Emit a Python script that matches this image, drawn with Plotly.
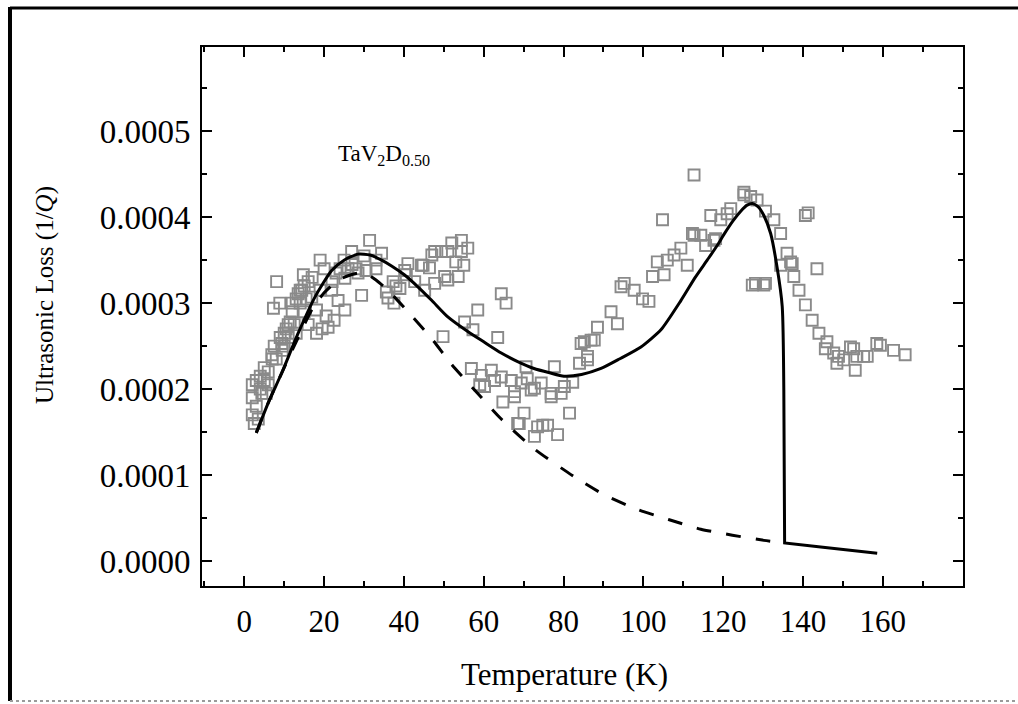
import plotly.graph_objects as go

# Measured ultrasonic loss (1/Q) versus temperature (K)
temp_meas = [
    2, 2, 2, 2.5, 3, 3, 3.5, 4, 4.4, 4, 5, 5, 5.5, 6, 6.9, 6, 7, 7.3, 7.5, 8.1, 8.9, 8, 9, 9.4, 9.5,
    10, 10.5, 10, 11, 11.5, 11, 12, 12.5, 12, 13, 13.5, 13, 14, 14.4, 14.8, 14, 15, 15.5, 15, 16,
    16.9, 16, 17, 18.1, 18.1, 19, 19, 19.5, 20, 20.5, 21, 21.9, 22, 22.5, 23.5, 23, 24, 25.2, 25.2,
    25, 26, 26.9, 27, 28, 28.5, 29.4, 30, 30.5, 31.4, 33, 33, 34.4, 35.6, 36, 37.5, 37.3, 38, 39,
    40.2, 40.6, 41, 42.7, 44.4, 44.8, 45.2, 46.4, 47, 47.7, 47.7, 49.4, 50.2, 51, 51, 52, 53, 53.6,
    54.4, 54.4, 55, 56, 49.8, 55.2, 57.3, 58.5, 63.5, 64.4, 65.6,
    56.9, 59.4, 60.2, 59, 61.9, 62.7, 64.4, 64.8, 66.9, 67.7, 67.7, 68.5, 68.9, 69.4, 70.1, 70.6,
    70.9, 71.9, 72.7, 72.7, 73.5, 74.4, 74.8, 76, 76.9, 76.9, 77.7, 78.5, 79.4, 80.2, 81.5, 82.3,
    84, 84.4, 85.2, 86, 86, 86.9, 87.7, 88.5, 91.9, 93.5, 94.4, 95.2, 97.7, 99.8, 101.4, 102.3,
    103.5, 104.8, 105.2, 106, 107.7, 109.4, 111, 112.3, 112.7, 112.7, 114.4, 115.6, 116.9, 117.7,
    118.1, 119.4, 121, 121.9, 125.2, 125.2, 126.9, 128.5, 127.3, 128.1, 130.2, 130.6, 130.6, 132.7,
    134.4, 134.4,
    136, 136.9, 137.3, 137.7, 139, 140.6, 140.6, 141.3, 142.3, 143.5, 144, 145.6, 146, 147.7,
    148.5, 148.9, 150.2, 151.9, 152.7, 153.1, 153.5, 155.2, 156.1, 158.5, 159.4, 162.7, 165.6,
]
loss_meas_e4 = [
    2.05, 1.9, 1.7, 1.6, 2.1, 1.8, 1.65, 2.0, 1.95, 2.15, 2.1, 2.25, 1.95, 2.2, 2.4, 2.05, 2.35,
    2.94, 2.5, 3.25, 3.0, 2.35, 2.6, 2.53, 2.45,
    2.65, 2.7, 2.5, 2.75, 2.78, 2.6, 2.9, 2.75, 3.0, 3.05, 3.11, 2.65, 3.15, 3.15, 3.33, 3.0, 3.2,
    3.05, 2.9, 3.25,
    3.07, 2.75, 3.3, 2.92, 2.65, 3.5, 3.15, 2.7, 3.4, 2.85, 2.72, 3.15, 3.25, 2.8, 3.03, 3.35, 3.4,
    2.92, 3.29,
    3.5, 3.4, 3.6, 3.45, 3.4, 3.35, 3.09, 3.55, 3.38, 3.73, 3.5, 3.4, 3.58, 3.13, 3.06, 3.0, 3.25,
    3.2, 3.17,
    3.38, 3.33, 3.46, 3.25, 3.44, 3.44, 3.15, 3.41, 3.56, 3.6, 3.23, 3.6, 3.31, 3.27, 3.6, 3.7, 3.48,
    3.31,
    3.73, 3.6, 3.44, 3.64, 2.61, 2.78, 2.69, 2.92, 2.6, 3.11, 3.0,
    2.24, 2.16, 2.03, 2.05, 2.22, 2.1, 2.14, 1.85, 2.1, 1.91, 1.97, 1.6, 1.6, 2.07, 1.72, 2.26,
    2.12, 1.99, 2.01, 1.45, 1.56, 2.07, 1.58, 1.58, 1.95, 1.91, 2.26, 1.47, 1.95, 2.03, 1.72, 2.08,
    2.3, 2.53, 2.55, 2.38, 2.34, 2.57, 2.57, 2.72, 2.9, 2.76, 3.19, 3.23, 3.15, 3.05, 3.02, 3.31,
    3.48, 3.97, 3.33, 3.5, 3.56, 3.64, 3.44, 3.81, 3.79, 4.49, 3.79, 3.67, 4.02, 3.73,
    3.75, 3.97, 4.04, 4.1, 4.29, 4.26, 4.24, 4.2, 3.21, 3.23, 3.21, 3.23, 4.07, 3.97,
    3.81, 3.44,
    3.58, 3.48, 3.46, 3.31, 3.15, 2.98, 4.02, 4.05, 2.8, 3.4, 2.65, 2.47, 2.55, 2.42,
    2.3, 2.38, 2.34, 2.49, 2.47, 2.22, 2.38, 2.38, 2.38, 2.53, 2.51, 2.45, 2.4,
]

# Model fit: total loss (solid), smooth part up to the transition
temp_fit = [
    3, 6, 9.4, 13.5, 17.7, 21.9, 25, 28.5, 31.5, 34.4, 37, 40.1, 43.5, 47, 51, 56, 60, 64.4, 68.5,
    72.6, 76.5, 80.1, 84.5, 89.4, 94, 99.4, 104.4, 109.4, 113, 116, 118.5, 120.2, 122.5, 124.4,
    126, 127.3, 128.8, 130.2, 131.9, 133.5, 134.8, 135.2,
]
loss_fit_e4 = [
    1.49, 1.84, 2.19, 2.65, 3.07, 3.38, 3.50, 3.57, 3.56, 3.50, 3.43, 3.33, 3.19, 3.03, 2.84, 2.67,
    2.55, 2.42, 2.32, 2.24, 2.19, 2.15, 2.17, 2.24, 2.35, 2.49, 2.69, 3.03, 3.30, 3.50, 3.67, 3.80,
    3.96, 4.07, 4.14, 4.16, 4.12, 4.02, 3.81, 3.42, 2.96, 1.99,
]
# Drop at the transition and the high-temperature tail
temp_tail = [135.2, 135.3, 135.4, 145, 158.6]
loss_tail_e4 = [1.99, 1.0, 0.21, 0.16, 0.09]

# Low-temperature relaxation component (dashed)
temp_comp = [
    3, 6, 9.4, 13.5, 17, 20, 23, 25.5, 28.5, 31, 33, 36, 41, 46.9, 51.9, 57.7, 64.2, 72.5, 82.7,
    90.6, 98.5, 106.5, 114.4, 122.3, 130.2, 133.5,
]
loss_comp_e4 = [
    1.49, 1.84, 2.19, 2.6, 2.93, 3.12, 3.25, 3.31, 3.35, 3.33, 3.27, 3.15, 2.90, 2.59, 2.29, 1.99,
    1.66, 1.31, 0.98, 0.76, 0.60, 0.48, 0.37, 0.30, 0.24, 0.22,
]

x_ticks = [0, 20, 40, 60, 80, 100, 120, 140, 160]
y_ticks = [0.0, 0.0001, 0.0002, 0.0003, 0.0004, 0.0005]
y_tick_text = ["0.0000", "0.0001", "0.0002", "0.0003", "0.0004", "0.0005"]

SERIF = "Liberation Serif"


def scaled(vals):
    return [v * 1e-4 for v in vals]


fig = go.Figure()
fig.add_trace(go.Scatter(
    x=temp_meas, y=scaled(loss_meas_e4), mode="markers",
    marker=dict(symbol="square-open", size=11, color="#8a8a8a", line=dict(width=1.9, color="#8a8a8a")),
    showlegend=False,
))
fig.add_trace(go.Scatter(
    x=temp_comp, y=scaled(loss_comp_e4), mode="lines",
    line=dict(color="black", width=3, dash="15px,15px", shape="spline", smoothing=0.6),
    showlegend=False,
))
fig.add_trace(go.Scatter(
    x=temp_fit, y=scaled(loss_fit_e4), mode="lines",
    line=dict(color="black", width=3, shape="spline", smoothing=0.6),
    showlegend=False,
))
fig.add_trace(go.Scatter(
    x=temp_tail, y=scaled(loss_tail_e4), mode="lines",
    line=dict(color="black", width=3),
    showlegend=False,
))

axis_common = dict(
    showline=True, linecolor="black", linewidth=2, mirror="allticks",
    ticks="inside", tickwidth=2, ticklen=10, tickcolor="black",
    showgrid=False, zeroline=False,
)

fig.update_xaxes(
    range=[-10.6, 180.1], tickvals=x_ticks,
    minor=dict(dtick=10, tick0=0, ticks="inside", ticklen=5, tickwidth=2, tickcolor="black"),
    ticklabelstandoff=7,
    tickfont=dict(family=SERIF, size=31, color="black"),
    **axis_common,
)
fig.update_yaxes(
    range=[-0.0000291, 0.000598], tickvals=y_ticks, ticktext=y_tick_text,
    minor=dict(dtick=0.00005, tick0=0, ticks="inside", ticklen=5, tickwidth=2, tickcolor="black"),
    ticklabelstandoff=3,
    tickfont=dict(family=SERIF, size=33, color="black"),
    **axis_common,
)

# Axis titles
fig.add_annotation(
    x=0.4757, y=-0.165, xref="paper", yref="paper", xanchor="center", yanchor="middle",
    showarrow=False, text="Temperature (K)", font=dict(family=SERIF, size=31, color="black"),
)
fig.add_annotation(
    x=-0.2056, y=0.539, xref="paper", yref="paper", xanchor="center", yanchor="middle",
    showarrow=False, textangle=-90, text="Ultrasonic Loss (1/<i>Q</i>)",
    font=dict(family=SERIF, size=25, color="black"),
)

fig.add_annotation(
    x=23.0, y=0.000472, xref="x", yref="y", xanchor="left", yanchor="middle", showarrow=False,
    text="TaV<sub>2</sub>D<sub>0.50</sub>", font=dict(family=SERIF, size=23, color="black"),
)

# Outer frame around the figure
fig.add_shape(type="line", xref="paper", yref="paper", x0=-0.2523, x1=-0.2523, y0=1.0742, y1=-0.2134,
              line=dict(color="black", width=4))
fig.add_shape(type="line", xref="paper", yref="paper", x0=-0.2523, x1=1.0723, y0=1.0724, y1=1.0724,
              line=dict(color="black", width=3))
fig.add_shape(type="line", xref="paper", yref="paper", x0=-0.2523, x1=1.0723, y0=-0.2134, y1=-0.2134,
              line=dict(color="#9a9a9a", width=2, dash="dot"))

fig.update_layout(
    width=1018, height=704,
    margin=dict(l=202, r=55, t=47, b=118),
    paper_bgcolor="white", plot_bgcolor="white",
)

fig.write_html("out.html")
